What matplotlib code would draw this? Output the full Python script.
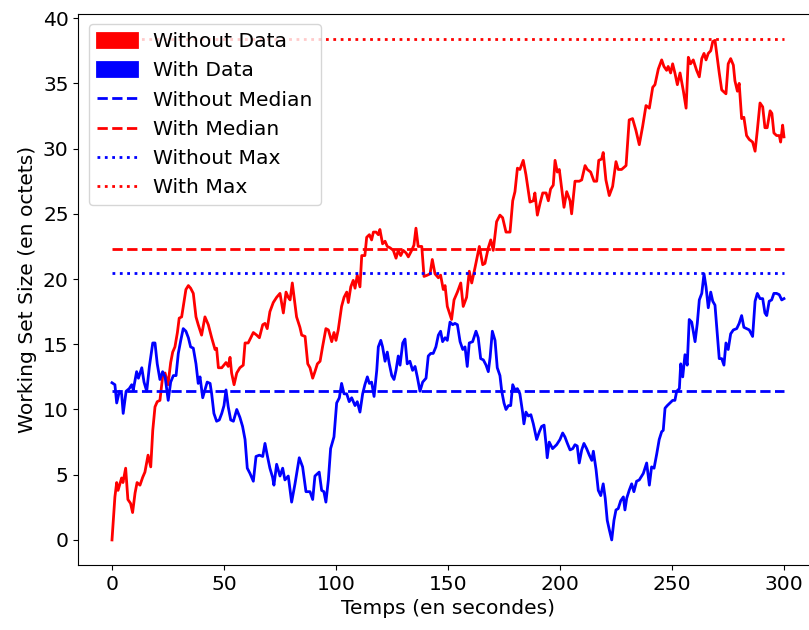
import matplotlib
matplotlib.use("Agg")
import matplotlib.pyplot as plt
import matplotlib.patches as mpatches

# red curve ("Without Data")
t_without = [0, 1.3, 2.1, 2.7, 4.3, 4.9, 6.1, 7.1, 8.3, 9.2, 10.3, 11.2, 12.5, 13.7, 14.7, 16.1, 17.3,
             18.2, 19.2, 20.2, 21.4, 22.6, 23.7, 25, 26.2, 27.1, 28.1, 29.2, 30, 31.1, 32.1, 33, 34.1,
             35.1, 36.3, 37.5, 38.5, 40, 41.5, 43, 44.5, 46, 46.7, 47.5, 49, 50.9, 51.9, 52.7, 53.4,
             54.5, 55.7, 57.1, 58.6, 59.4, 60.8, 63.1, 64.6, 65.8, 67.3, 68.3, 69.3, 70.5, 72, 73.5,
             75, 76.5, 77.7, 78.7, 79.5, 80.5, 81.3, 82.4, 83.9, 84.7, 86.2, 87.4, 88.4, 89.6, 90.6,
             91.7, 92.9, 94, 95.5, 96.6, 98.1, 99.1, 100, 101, 102.5, 103.6, 104.8, 105.5, 106.6,
             107.7, 108.5, 109.5, 110.7, 111.5, 112.9, 113.7, 114.9, 115.9, 116.7, 117.9, 118.9,
             119.6, 120.8, 121.9, 122.9, 124.1, 125.6, 126.8, 127.8, 128.9, 130, 131.3, 132.3, 133.8,
             134.8, 135.7, 136.7, 138.3, 139.3, 140.8, 142, 143, 144.2, 145.7, 146.7, 147.9, 148.7,
             149.7, 151.6, 152.7, 154.2, 155.7, 156.8, 158.3, 159.5, 160.6, 162.1, 164, 165.5, 166.5,
             168, 169.1, 170.2, 171.7, 173.2, 174.4, 175.9, 177.7, 178.9, 179.9, 181, 182.1, 183.6,
             184.8, 186.6, 188.1, 188.8, 189.9, 191.1, 192.3, 193.8, 194.8, 195.8, 197, 197.8, 198.8,
             199.7, 200.8, 201.8, 203, 204.5, 205.2, 206.7, 208.6, 209.7, 211.2, 212.2, 213.7, 215.2,
             216.4, 217.3, 218.6, 219.3, 220.5, 222, 223.5, 225, 226, 227.5, 229.5, 230.9, 232.4,
             233.9, 235.4, 236.9, 238.4, 239.9, 241.4, 242.4, 243.9, 245.4, 246.4, 247.6, 248.3,
             249.4, 250.3, 251.3, 252.4, 253.6, 255.1, 256.3, 257.3, 258.3, 259.5, 261, 262.2, 263.3,
             264.3, 265.2, 266.2, 267.3, 268.2, 269.2, 270.2, 271.1, 272.2, 274.1, 275.1, 276.2,
             277.4, 278.1, 279.2, 280, 281.1, 282.1, 283.3, 284.5, 286, 287.1, 288.1, 289.3, 290.5,
             291.5, 292.5, 293.8, 294.6, 295.5, 296.7, 297.9, 298.5, 299.4, 300]
without_data = [0, 3.3, 4.4, 3.8, 4.75, 4.4, 5.5, 3.1, 2.8, 2.1, 3.6, 4.4, 4.2, 4.8, 5.2, 6.5, 5.6,
                8.4, 10.2, 10.6, 10.7, 12.5, 12.8, 11.9, 13.6, 14.4, 14.8, 15.9, 17.0, 17.1, 18.2,
                19.2, 19.5, 19.3, 18.9, 17.1, 16.5, 15.7, 17.1, 16.5, 15.5, 14.6, 14.7, 13.2, 13.2,
                13.6, 13.3, 14.0, 12.8, 11.9, 12.8, 13.2, 13.4, 15.1, 15.1, 15.9, 15.7, 15.5, 16.5,
                16.6, 16.2, 17.5, 18.2, 18.6, 18.9, 17.4, 19.0, 18.6, 18.4, 19.7, 18.6, 17.1, 16.3,
                15.7, 15.6, 13.5, 13.2, 12.4, 12.9, 13.5, 13.7, 14.8, 16.2, 16.1, 15.2, 15.9, 15.3,
                16.1, 17.9, 18.6, 19.0, 18.2, 19.4, 19.9, 19.3, 20.3, 19.4, 21.8, 21.8, 23.2, 23.4,
                23.0, 23.6, 23.6, 23.4, 23.8, 22.7, 22.9, 22.5, 22.4, 22.2, 21.6, 22.2, 21.8, 22.2,
                22.0, 21.7, 22.2, 22.6, 23.9, 22.5, 22.5, 20.2, 20.3, 20.4, 21.5, 20.4, 20.1, 20.3,
                19.2, 19.5, 17.9, 16.9, 18.4, 19.0, 19.7, 17.9, 18.6, 20.6, 19.7, 20.9, 22.5, 21.1,
                21.2, 22.4, 23.0, 22.2, 24.4, 24.9, 24.7, 23.6, 23.6, 26.0, 26.7, 28.5, 28.4, 29.1,
                28.0, 25.9, 26.0, 26.6, 24.9, 25.8, 26.6, 26.6, 26.0, 26.9, 27.2, 29.1, 28.2, 28.4,
                26.9, 25.5, 26.7, 26.0, 25.0, 27.5, 27.5, 27.6, 28.7, 28.4, 28.2, 27.5, 27.5, 29.1,
                29.2, 29.7, 27.6, 26.4, 27.1, 29.0, 28.4, 28.4, 28.7, 32.2, 32.3, 31.4, 30.3, 31.7,
                33.3, 33.1, 34.7, 34.9, 36.1, 36.8, 36.3, 36.0, 36.3, 35.8, 36.5, 35.8, 34.9, 35.8,
                34.4, 33.1, 37.0, 36.5, 36.8, 36.0, 35.5, 36.9, 37.3, 36.8, 37.3, 37.5, 38.2, 38.3,
                37.0, 35.8, 34.5, 34.2, 36.5, 36.9, 36.4, 35.2, 34.4, 35.0, 32.3, 32.4, 31.0, 30.7,
                30.5, 29.8, 31.4, 33.5, 33.2, 31.6, 31.6, 32.9, 32.7, 31.2, 31.0, 31.0, 30.5, 31.8,
                30.9]

# blue curve ("With Data")
t_with = [0, 1.3, 2.1, 3.3, 4.3, 5, 6.3, 7.7, 8.8, 9.5, 11, 11.8, 13.3, 14.3, 15.5, 16.7, 18.2, 19.2,
          20.2, 21.4, 22.6, 23.7, 25.1, 26.2, 27.4, 28.6, 29.6, 30.7, 31.8, 33, 34.1, 35.1, 36.3,
          37.5, 38.5, 39.3, 40.5, 41.5, 42.5, 43.8, 44.5, 45.5, 46.7, 47.9, 49, 50, 50.9, 51.9, 53,
          54.2, 55.7, 57.1, 58.3, 59.4, 60.4, 61.6, 63.1, 64.3, 65.8, 67.3, 68.3, 69.3, 70.5, 71.7,
          72.3, 73.5, 75, 76.2, 77.2, 78.7, 80.2, 81.7, 83.6, 85.1, 86.6, 88.4, 89.6, 90.6, 92.5,
          93.6, 94.6, 95.5, 96.6, 97.6, 99.1, 100.3, 101.5, 102.5, 103.6, 104.8, 105.9, 107, 108.5,
          109.5, 110.7, 111.9, 112.9, 114, 114.9, 115.9, 117, 118.2, 118.9, 120, 120.8, 121.9,
          122.9, 123.8, 124.9, 125.9, 126.8, 127.8, 128.6, 129.8, 130.8, 131.8, 133, 134.2, 135.3,
          136.3, 137.5, 138.7, 140.2, 141.2, 142.3, 143.4, 144.6, 145.7, 146.7, 147.6, 148.7, 149.7,
          150.9, 152.1, 153.1, 154.2, 155.4, 156.6, 157.6, 158.6, 159.5, 161, 162.5, 163.5, 164.6,
          165.8, 167, 168, 168.8, 169.8, 171, 172, 173.2, 174, 175, 175.9, 177, 178, 178.9, 179.9,
          181, 182.1, 183.3, 183.9, 184.8, 185.9, 187, 188.1, 189.6, 190.8, 191.8, 192.9, 193.8,
          194.3, 195.2, 196.7, 198.5, 200, 201.2, 202.2, 203.3, 204.5, 205.7, 206.7, 207.7, 208.6,
          209.7, 210.7, 211.9, 213.1, 214.2, 214.9, 216.1, 217.1, 218.2, 219.3, 220.2, 221.1, 222,
          223.1, 224.1, 225, 226, 227.1, 228.3, 229, 229.8, 230.9, 232, 233, 234.2, 235.4, 237.2,
          238.7, 239.9, 240.9, 242, 243.2, 244.3, 245.4, 246.1, 246.9, 247.9, 249.1, 250.3, 251.3,
          252.1, 253.3, 253.9, 254.8, 255.8, 256.8, 257.7, 258.8, 260.3, 261.3, 262.2, 263.3,
          264.3, 265.2, 266.2, 267.3, 268.2, 269.2, 270.2, 271.1, 272.2, 273.2, 274.1, 275.1,
          276.2, 277.4, 278.9, 280, 281.1, 282.1, 283.3, 284.5, 286, 287.1, 288.1, 289.3, 290.5,
          291.5, 292.3, 293.4, 294.5, 295.5, 296.7, 297.9, 299, 300]
with_data = [12.05, 11.9, 10.5, 11.4, 11.2, 9.7, 11.4, 11.6, 11.9, 11.5, 12.9, 12.4, 13.2, 12.1, 11.4,
             13.3, 15.1, 15.1, 13.5, 12.3, 12.9, 12.5, 10.7, 12.1, 12.6, 12.6, 14.3, 15.3, 16.2,
             16.0, 15.5, 14.8, 14.7, 13.5, 12.0, 12.5, 10.9, 11.5, 12.1, 12.0, 11.2, 9.7, 9.1, 9.2,
             9.7, 10.3, 11.5, 10.2, 9.2, 9.1, 10.0, 9.4, 8.7, 7.7, 5.5, 5.1, 4.5, 6.4, 6.5, 6.4, 7.4,
             6.5, 5.5, 4.8, 4.2, 5.8, 4.9, 5.5, 4.6, 4.9, 2.9, 4.3, 6.3, 5.6, 3.7, 3.7, 3.1, 4.9, 5.2,
             3.8, 3.7, 2.9, 4.6, 7.0, 7.9, 10.5, 10.9, 12.0, 11.2, 11.2, 10.6, 10.9, 10.3, 10.6, 9.8,
             11.2, 11.9, 12.5, 12.0, 12.1, 11.0, 13.0, 14.8, 15.3, 14.8, 13.7, 14.4, 13.5, 12.6,
             12.3, 13.0, 14.1, 13.4, 15.1, 15.4, 13.5, 13.7, 13.0, 13.3, 12.5, 11.4, 12.1, 12.4,
             14.1, 14.3, 14.3, 14.8, 15.7, 16.0, 15.2, 15.5, 15.3, 16.7, 16.5, 16.6, 16.5, 15.2,
             14.6, 14.8, 13.3, 15.1, 15.2, 16.0, 15.5, 13.9, 13.8, 13.4, 12.9, 14.0, 16.0, 15.3,
             13.2, 12.6, 11.4, 10.5, 10.0, 10.3, 10.3, 11.9, 11.5, 11.6, 11.2, 9.8, 8.9, 9.8, 9.5,
             9.6, 8.9, 7.7, 8.3, 8.7, 8.8, 7.3, 6.3, 7.5, 7.0, 7.3, 7.7, 8.2, 7.9, 7.4, 6.9, 7.0, 7.3,
             7.2, 5.9, 6.9, 7.4, 7.0, 6.5, 6.1, 6.8, 5.4, 3.8, 3.4, 4.3, 3.2, 1.5, 0.8, 0.0, 1.5, 2.3,
             2.4, 3.0, 3.3, 2.3, 3.2, 3.8, 4.3, 3.7, 4.5, 4.6, 5.1, 5.9, 4.2, 5.6, 5.5, 6.6, 7.7, 8.3,
             8.4, 10.1, 10.3, 10.5, 10.7, 10.7, 11.4, 11.6, 13.5, 12.5, 14.2, 13.4, 16.9, 16.7, 15.2,
             16.6, 18.4, 18.9, 20.4, 19.4, 17.8, 19.0, 18.3, 18.0, 15.8, 13.9, 13.9, 13.4, 15.1,
             14.6, 15.8, 16.1, 16.2, 16.6, 17.2, 16.3, 16.2, 16.1, 15.6, 18.3, 18.9, 18.5, 18.5,
             17.4, 17.2, 18.3, 18.4, 18.9, 18.9, 18.8, 18.4, 18.5]

without_median = 11.4
with_median = 22.3
without_max = 20.5
with_max = 38.4

plt.rcParams['font.size'] = 14.6
fig = plt.figure(figsize=(8.09, 6.30), dpi=100)
ax = fig.add_axes([0.0969, 0.1032, 0.9137, 0.8746])

ax.plot(t_without, without_data, color='red', lw=2)
ax.plot(t_with, with_data, color='blue', lw=2)
ax.hlines(without_median, t_with[0], t_with[-1], colors='blue', linestyles='dashed', lw=2)
ax.hlines(with_median, t_with[0], t_with[-1], colors='red', linestyles='dashed', lw=2)
ax.hlines(without_max, t_with[0], t_with[-1], colors='blue', linestyles='dotted', lw=2)
ax.hlines(with_max, t_with[0], t_with[-1], colors='red', linestyles='dotted', lw=2)

ax.set_xticks([0, 50, 100, 150, 200, 250, 300])
ax.set_yticks([0, 5, 10, 15, 20, 25, 30, 35, 40])
ax.set_xlabel('Temps (en secondes)')
ax.set_ylabel('Working Set Size (en octets)')

handles = [
    mpatches.Patch(facecolor='red', edgecolor='red', lw=2, label='Without Data'),
    mpatches.Patch(facecolor='blue', edgecolor='blue', lw=2, label='With Data'),
    plt.Line2D([], [], color='blue', ls='--', lw=2, label='Without Median'),
    plt.Line2D([], [], color='red', ls='--', lw=2, label='With Median'),
    plt.Line2D([], [], color='blue', ls=':', lw=2, label='Without Max'),
    plt.Line2D([], [], color='red', ls=':', lw=2, label='With Max'),
]
ax.legend(handles=handles, loc='upper left')

fig.savefig('out.png', dpi=100)
